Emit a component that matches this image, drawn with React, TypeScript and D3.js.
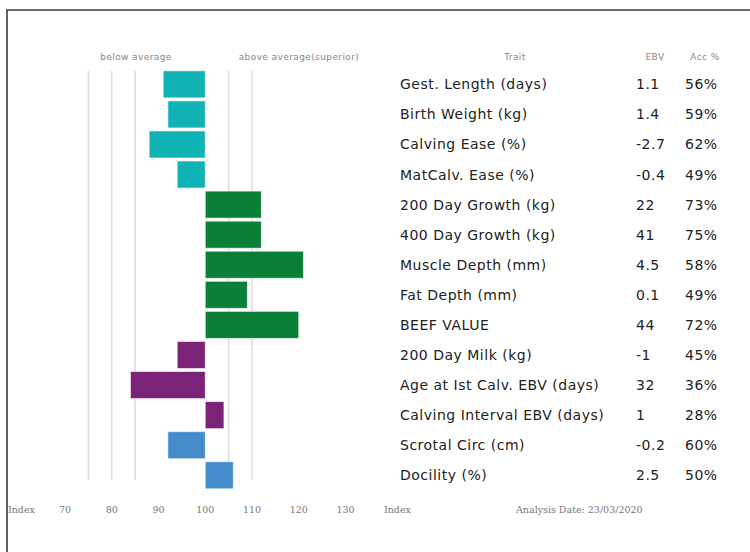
import React from 'react';
import * as d3 from 'd3';

// Trait rows, top to bottom
const TRAITS = [
  'Gest. Length (days)', 'Birth Weight (kg)', 'Calving Ease (%)', 'MatCalv. Ease (%)',
  '200 Day Growth (kg)', '400 Day Growth (kg)', 'Muscle Depth (mm)', 'Fat Depth (mm)',
  'BEEF VALUE', '200 Day Milk (kg)', 'Age at Ist Calv. EBV (days)', 'Calving Interval EBV (days)',
  'Scrotal Circ (cm)', 'Docility (%)'
];
const EBV = ['1.1', '1.4', '-2.7', '-0.4', '22', '41', '4.5', '0.1', '44', '-1', '32', '1', '-0.2', '2.5'];
const ACC = ['56%', '59%', '62%', '49%', '73%', '75%', '58%', '49%', '72%', '45%', '36%', '28%', '60%', '50%'];
// index value (100 = average)
const INDEX = [91, 92, 88, 94, 112, 112, 121, 109, 120, 94, 84, 104, 92, 106];
const GROUP = ['calving', 'calving', 'calving', 'calving', 'growth', 'growth', 'growth', 'growth', 'growth',
  'maternal', 'maternal', 'maternal', 'other', 'other'];
const GROUP_COLORS: { [k: string]: string } = {
  calving: '#10b2b3', growth: '#0a7f38', maternal: '#7b2379', other: '#438bcb'
};
const AXIS_TICKS = [70, 80, 90, 100, 110, 120, 130];
const GRID_VALUES = [75, 80, 85, 105, 110];

const App: React.FC = () => {
  const W = 750, H = 552;
  const x = d3.scaleLinear().domain([70, 130]).range([65, 345.5]);
  const y = d3.scaleBand<number>().domain(d3.range(TRAITS.length)).range([69.3, 490.3]).paddingInner(0.1).paddingOuter(0.05);
  const base = x(100);
  const small = { fontSize: 9, fill: '#888', fontFamily: 'DejaVu Sans', letterSpacing: 0.4 };

  return (
    <div style={{ position: 'fixed', left: 0, top: 0 }}>
      <svg width={W} height={H} style={{ display: 'block', background: '#fff' }}>
        <path d={`M7,${H} V10 H${W}`} fill="none" stroke="#3a3a3a" strokeWidth={1.6} />

        {/* grid */}
        {GRID_VALUES.map(v => (
          <line key={v} x1={x(v)} x2={x(v)} y1={71} y2={480} stroke="#dcdcdc" strokeWidth={1.5} />
        ))}

        <text x={136} y={60} textAnchor="middle" {...small}>below average</text>
        <text x={299} y={60} textAnchor="middle" {...small}>above average(superior)</text>
        <text x={515} y={60} textAnchor="middle" {...small}>Trait</text>
        <text x={655} y={60} textAnchor="middle" {...small}>EBV</text>
        <text x={705} y={60} textAnchor="middle" {...small}>Acc %</text>

        {/* bars */}
        {INDEX.map((v, i) => (
          <rect key={i}
            x={Math.min(x(v), base)}
            y={y(i)}
            width={Math.abs(x(v) - base)}
            height={y.bandwidth()}
            fill={GROUP_COLORS[GROUP[i]]}
            stroke="#ffffff" strokeOpacity={0.6} strokeWidth={1} />
        ))}

        {/* table */}
        {TRAITS.map((t, i) => {
          const cy = (y(i) as number) + y.bandwidth() / 2 + 5;
          return (
            <g key={t} fontFamily="DejaVu Sans" fontSize={14} fill="#222" letterSpacing={0.5}>
              <text x={400} y={cy}>{t}</text>
              <text x={636} y={cy}>{EBV[i]}</text>
              <text x={685} y={cy}>{ACC[i]}</text>
            </g>
          );
        })}

        {/* bottom axis */}
        <g fontFamily="DejaVu Serif" fontSize={9.5} fill="#777">
          <text x={8} y={513}>Index</text>
          {AXIS_TICKS.map(t => (
            <text key={t} x={x(t)} y={513} textAnchor="middle">{t}</text>
          ))}
          <text x={384} y={513}>Index</text>
          <text x={516} y={513}>Analysis Date: 23/03/2020</text>
        </g>
      </svg>
    </div>
  );
};

export default App;
